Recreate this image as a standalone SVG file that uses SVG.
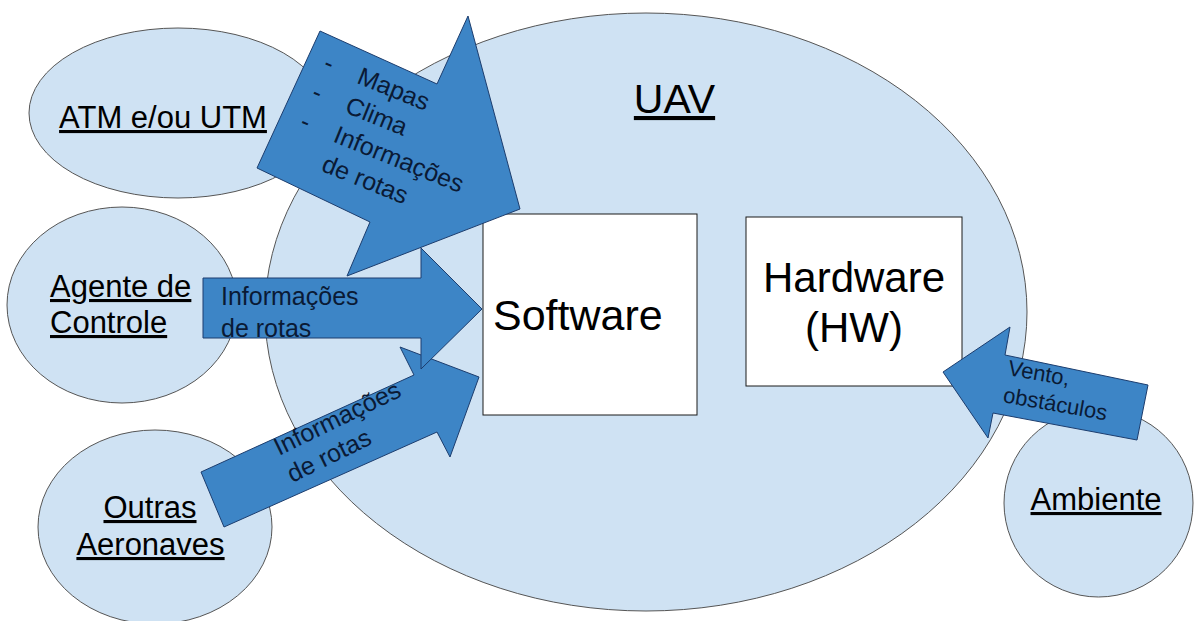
<svg xmlns="http://www.w3.org/2000/svg" width="1194" height="621" viewBox="0 0 1194 621">
  <style>
    .bubble { fill: #cfe2f3; stroke: #555555; stroke-width: 1; }
    .box { fill: #ffffff; stroke: #1a1a1a; stroke-width: 1; }
    .flow { fill: #3d85c6; stroke: #1c3d6e; stroke-width: 1; stroke-linejoin: miter; }
    .lbl { font-family: "Liberation Sans", Arial, sans-serif; fill: #000000; }
    .ul { text-decoration: underline; }
    .flowtxt { font-family: "Liberation Sans", Arial, sans-serif; fill: #0a1a35; font-size: 25px; }
  </style>

  <!-- UAV boundary -->
  <g id="uav">
    <ellipse class="bubble" cx="646" cy="312" rx="381" ry="299"/>
    <text class="lbl ul" x="674.5" y="113" font-size="41" text-anchor="middle">UAV</text>
  </g>

  <!-- external actors -->
  <g id="atm-utm">
    <ellipse class="bubble" cx="178" cy="113" rx="149" ry="85"/>
    <text class="lbl ul" x="163" y="128" font-size="31" text-anchor="middle">ATM e/ou UTM</text>
  </g>
  <g id="agente-controle">
    <ellipse class="bubble" cx="122" cy="305" rx="115" ry="98"/>
    <text class="lbl ul" x="50" y="297" font-size="31">Agente de</text>
    <text class="lbl ul" x="50" y="333" font-size="31">Controle</text>
  </g>
  <g id="outras-aeronaves">
    <ellipse class="bubble" cx="155" cy="527" rx="117" ry="97"/>
    <text class="lbl ul" x="150" y="518" font-size="31" text-anchor="middle">Outras</text>
    <text class="lbl ul" x="150.5" y="555" font-size="31" text-anchor="middle">Aeronaves</text>
  </g>
  <g id="ambiente">
    <ellipse class="bubble" cx="1098.5" cy="503" rx="94.5" ry="94"/>
    <text class="lbl ul" x="1096" y="510" font-size="31" text-anchor="middle">Ambiente</text>
  </g>

  <!-- UAV internals -->
  <g id="software">
    <rect class="box" x="483" y="214" width="214" height="201"/>
    <text class="lbl" x="493" y="330" font-size="43">Software</text>
  </g>
  <g id="hardware">
    <rect class="box" x="746" y="217" width="216" height="169"/>
    <text class="lbl" x="854" y="292" font-size="42" text-anchor="middle">Hardware</text>
    <text class="lbl" x="854" y="342" font-size="42" text-anchor="middle">(HW)</text>
  </g>

  <!-- block-arrow connectors -->
  <g id="connectors">
    <g id="atm-to-software">
      <polygon class="flow" points="320,31 437,84 468,16 520,209 347,276 370,222 257,168"/>
      <g class="flowtxt" transform="translate(355.7,82.7) rotate(22)">
        <text x="-36" y="0">-</text>
        <text x="-36" y="31.6">-</text>
        <text x="-36" y="63.2">-</text>
        <text x="0" y="0">Mapas</text>
        <text x="0" y="31.6">Clima</text>
        <text x="0" y="63.2">Informações</text>
        <text x="0" y="94.8">de rotas</text>
      </g>
    </g>
    <g id="aeronaves-to-software">
      <polygon class="flow" points="224,527 201,472 414,375 400,347 479,377 450,457 437,432"/>
      <g class="flowtxt" transform="translate(279,456) rotate(-26)">
        <text x="0" y="0">Informações</text>
        <text x="0" y="30">de rotas</text>
      </g>
    </g>
    <g id="agente-to-software">
      <polygon class="flow" points="203,278 421,278 421,248 482,309 421,369 421,338 203,338"/>
      <text class="flowtxt" x="221" y="305">Informações</text>
      <text class="flowtxt" x="221" y="337">de rotas</text>
    </g>
    <g id="ambiente-to-hardware">
      <polygon class="flow" points="943,372 1010,327 1005,355 1148,385 1137,440 993,413 988,438"/>
      <g class="flowtxt" style="font-size:22px" transform="translate(1007,375) rotate(10)">
        <text x="0" y="0">Vento,</text>
        <text x="0" y="27.5">obstáculos</text>
      </g>
    </g>
  </g>
</svg>
